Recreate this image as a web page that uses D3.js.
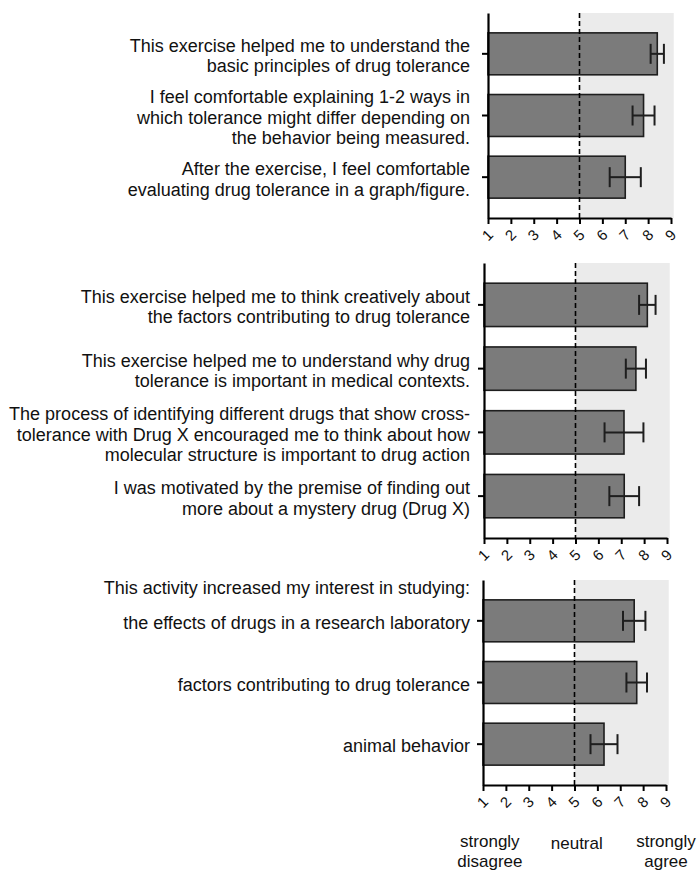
<!DOCTYPE html>
<html>
<head>
<meta charset="utf-8">
<script src="https://cdn.jsdelivr.net/npm/d3@7"></script>
<style>
  body { margin: 0; background: #fff; }
  svg { display: block; font-family: "Liberation Sans", Arial, sans-serif; }
</style>
</head>
<body>
<script>
// survey statements, one list per panel (each item = lines of text)
var panel1Items = [
  ["This exercise helped me to understand the", "basic principles of drug tolerance"],
  ["I feel comfortable explaining 1-2 ways in", "which tolerance might differ depending on", "the behavior being measured."],
  ["After the exercise, I feel comfortable", "evaluating drug tolerance in a graph/figure."]
];
var panel1Means = [8.40, 7.80, 7.00];
var panel1Errors = [0.29, 0.48, 0.68];

var panel2Items = [
  ["This exercise helped me to think creatively about", "the factors contributing to drug tolerance"],
  ["This exercise helped me to understand why drug", "tolerance is important in medical contexts."],
  ["The process of identifying different drugs that show cross-", "tolerance with Drug X encouraged me to think about how", "molecular structure is important to drug action"],
  ["I was motivated by the premise of finding out", "more about a mystery drug (Drug X)"]
];
var panel2Means = [8.14, 7.64, 7.12, 7.13];
var panel2Errors = [0.36, 0.44, 0.85, 0.65];

var panel3Header = "This activity increased my interest in studying:";
var panel3Items = [
  ["the effects of drugs in a research laboratory"],
  ["factors contributing to drug tolerance"],
  ["animal behavior"]
];
var panel3Means = [7.61, 7.72, 6.29];
var panel3Errors = [0.49, 0.45, 0.59];

var tickValues = [1, 2, 3, 4, 5, 6, 7, 8, 9];
var neutralValue = 5;
var scaleLabels = [
  {value: 1.3, lines: ["strongly", "disagree"]},
  {value: 5.1, lines: ["neutral"]},
  {value: 9.0, lines: ["strongly", "agree"]}
];

var width = 698, height = 871;
var svg = d3.select("body").append("svg")
  .attr("width", width)
  .attr("height", height);

var panels = [
  {items: panel1Items, means: panel1Means, errors: panel1Errors, axisX: 488, top: 13, bottom: 218},
  {items: panel2Items, means: panel2Means, errors: panel2Errors, axisX: 484, top: 263, bottom: 538},
  {items: panel3Items, means: panel3Means, errors: panel3Errors, axisX: 483, top: 580, bottom: 785, header: panel3Header}
];

var lastX;

panels.forEach(function (p) {
  var x = d3.scaleLinear().domain([1, 9]).range([p.axisX, p.axisX + 183]);
  lastX = x;
  var y = d3.scaleBand()
    .domain(d3.range(p.items.length))
    .range([p.top + 10, p.bottom - 10])
    .paddingInner(0.32)
    .paddingOuter(0.16);

  var g = svg.append("g");

  // shaded "agree" side
  g.append("rect")
    .attr("x", x(neutralValue))
    .attr("y", p.top)
    .attr("width", x(9.12) - x(neutralValue))
    .attr("height", p.bottom - p.top)
    .attr("fill", "#ebebeb");

  // bars
  g.selectAll("rect.bar")
    .data(p.means)
    .enter()
    .append("rect")
    .attr("class", "bar")
    .attr("x", x(1))
    .attr("y", function (d, i) { return y(i); })
    .attr("width", function (d) { return x(d) - x(1); })
    .attr("height", y.bandwidth())
    .attr("fill", "#7b7b7b")
    .attr("stroke", "#1e1e1e")
    .attr("stroke-width", 1.6);

  // neutral dashed line
  g.append("line")
    .attr("x1", x(neutralValue)).attr("x2", x(neutralValue))
    .attr("y1", p.top).attr("y2", p.bottom)
    .attr("stroke", "#000")
    .attr("stroke-width", 1.6)
    .attr("stroke-dasharray", "5,3");

  // error bars
  var eb = g.selectAll("g.err")
    .data(p.means)
    .enter()
    .append("g")
    .attr("class", "err")
    .attr("stroke", "#1e1e1e")
    .attr("stroke-width", 2);
  eb.append("line")
    .attr("x1", function (d, i) { return x(d - p.errors[i]); })
    .attr("x2", function (d, i) { return x(d + p.errors[i]); })
    .attr("y1", function (d, i) { return y(i) + y.bandwidth() / 2; })
    .attr("y2", function (d, i) { return y(i) + y.bandwidth() / 2; });
  [-1, 1].forEach(function (s) {
    eb.append("line")
      .attr("x1", function (d, i) { return x(d + s * p.errors[i]); })
      .attr("x2", function (d, i) { return x(d + s * p.errors[i]); })
      .attr("y1", function (d, i) { return y(i) + y.bandwidth() / 2 - 10; })
      .attr("y2", function (d, i) { return y(i) + y.bandwidth() / 2 + 10; });
  });

  // x axis
  var xAxis = g.append("g")
    .attr("transform", "translate(0," + p.bottom + ")")
    .call(d3.axisBottom(x).tickValues(tickValues).tickSize(6).tickSizeOuter(0).tickFormat(d3.format("d")));
  xAxis.select(".domain").attr("stroke-width", 2.2);
  xAxis.selectAll(".tick line").attr("stroke-width", 2);
  xAxis.selectAll(".tick text")
    .attr("font-size", 15)
    .attr("font-family", "Liberation Sans, Arial, sans-serif")
    .attr("fill", "#111")
    .attr("text-anchor", "middle")
    .attr("dy", null)
    .attr("y", 0)
    .attr("transform", "translate(0,18) rotate(-45)")
    .attr("dominant-baseline", "middle");

  // y axis
  var yAxis = g.append("g")
    .attr("transform", "translate(" + p.axisX + ",0)")
    .call(d3.axisLeft(d3.scaleLinear().domain([0, 1]).range([p.top, p.bottom]))
      .tickValues([]).tickSizeOuter(0));
  yAxis.select(".domain").attr("stroke-width", 2.2);
  g.selectAll("line.ytick")
    .data(p.means)
    .enter()
    .append("line")
    .attr("class", "ytick")
    .attr("x1", p.axisX - 6).attr("x2", p.axisX)
    .attr("y1", function (d, i) { return y(i) + y.bandwidth() / 2; })
    .attr("y2", function (d, i) { return y(i) + y.bandwidth() / 2; })
    .attr("stroke", "#000")
    .attr("stroke-width", 2);

  // statement labels
  var lineH = 20.5;
  var labels = g.selectAll("text.item")
    .data(p.items)
    .enter()
    .append("text")
    .attr("class", "item")
    .attr("text-anchor", "end")
    .attr("font-size", 18)
    .attr("fill", "#111");
  labels.selectAll("tspan")
    .data(function (d, i) {
      var cy = y(i) + y.bandwidth() / 2 + 2;
      return d.map(function (t, j) { return {t: t, y: cy + (j - (d.length - 1) / 2) * lineH}; });
    })
    .enter()
    .append("tspan")
    .attr("x", 470)
    .attr("y", function (d) { return d.y; })
    .attr("dy", "0.35em")
    .text(function (d) { return d.t; });

  if (p.header) {
    g.append("text")
      .attr("x", 470)
      .attr("y", p.top + 8)
      .attr("dy", "0.35em")
      .attr("text-anchor", "end")
      .attr("font-size", 18)
      .attr("fill", "#111")
      .text(p.header);
  }
});

// bottom scale descriptions
var desc = svg.selectAll("text.desc")
  .data(scaleLabels)
  .enter()
  .append("text")
  .attr("class", "desc")
  .attr("text-anchor", "middle")
  .attr("font-size", 17)
  .attr("fill", "#111");
desc.selectAll("tspan")
  .data(function (d) {
    var y0 = d.lines.length > 1 ? 841 : 843;
    return d.lines.map(function (t, j) { return {t: t, x: lastX(d.value), y: y0 + j * 20}; });
  })
  .enter()
  .append("tspan")
  .attr("x", function (d) { return d.x; })
  .attr("y", function (d) { return d.y; })
  .attr("dy", "0.35em")
  .text(function (d) { return d.t; });
</script>
</body>
</html>
